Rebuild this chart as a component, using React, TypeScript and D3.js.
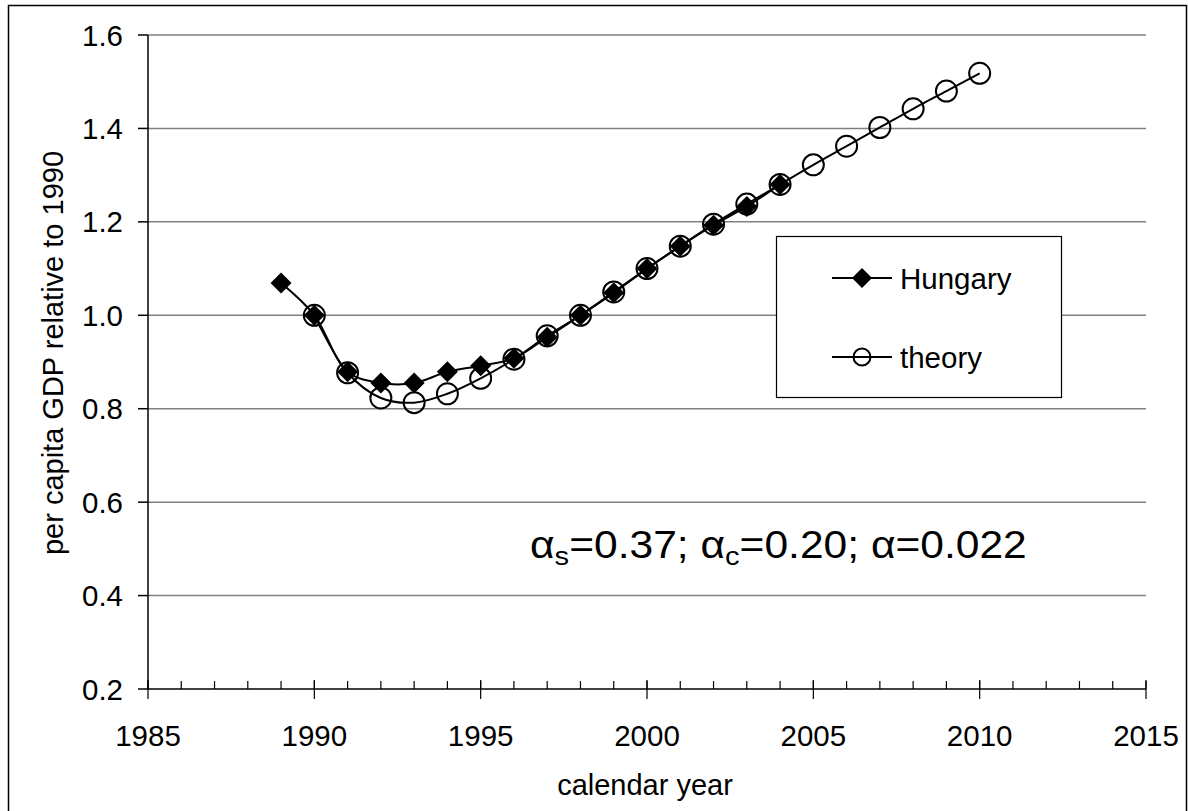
import React from "react";
import * as d3 from "d3";

const hungaryYears = [1989, 1990, 1991, 1992, 1993, 1994, 1995, 1996, 1997, 1998, 1999, 2000, 2001, 2002, 2003, 2004];
const hungaryValues = [1.069, 1.0, 0.879, 0.855, 0.855, 0.879, 0.892, 0.908, 0.953, 1.0, 1.048, 1.1, 1.148, 1.193, 1.233, 1.28];

const theoryYears = [1990, 1991, 1992, 1993, 1994, 1995, 1996, 1997, 1998, 1999, 2000, 2001, 2002, 2003, 2004, 2005, 2006, 2007, 2008, 2009, 2010];
const theoryValues = [1.0, 0.877, 0.823, 0.813, 0.832, 0.865, 0.906, 0.956, 1.0, 1.05, 1.1, 1.148, 1.195, 1.238, 1.28, 1.322, 1.362, 1.402, 1.442, 1.48, 1.518];

const xTicks = [1985, 1990, 1995, 2000, 2005, 2010, 2015];
const yTicks = [0.2, 0.4, 0.6, 0.8, 1.0, 1.2, 1.4, 1.6];

const FONT = "'Liberation Sans', Arial, Helvetica, sans-serif";

export default function App() {
  const W = 1188, H = 811;
  const x = d3.scaleLinear().domain([1985, 2015]).range([148, 1146]);
  const y = d3.scaleLinear().domain([0.2, 1.6]).range([689, 35]);
  const minor = d3.range(1985, 2016, 1);

  const line = d3
    .line<[number, number]>()
    .x((d) => x(d[0]))
    .y((d) => y(d[1]))
    .curve(d3.curveCatmullRom.alpha(0.5));

  const hung: [number, number][] = hungaryYears.map((yr, i) => [yr, hungaryValues[i]]);
  const theo: [number, number][] = theoryYears.map((yr, i) => [yr, theoryValues[i]]);

  const diamond = (cx: number, cy: number, r: number) =>
    `M${cx},${cy - r}L${cx + r},${cy}L${cx},${cy + r}L${cx - r},${cy}Z`;

  const legX = 776, legY = 236, legW = 285, legH = 161;

  return (
    <svg width={W} height={H} style={{ position: "absolute", left: 0, top: 0, background: "#fff" }} fontFamily={FONT}>
      <rect x={0} y={0} width={W} height={H} fill="#fff" />
      <rect x={8.5} y={5.5} width={1178} height={830} fill="none" stroke="#000" strokeWidth={1.5} />

      {/* gridlines */}
      {yTicks.slice(1).map((t) => (
        <line key={"g" + t} x1={x(1985)} x2={x(2015)} y1={y(t)} y2={y(t)} stroke="#808080" strokeWidth={1.5} />
      ))}

      {/* y axis */}
      <line x1={x(1985)} x2={x(1985)} y1={y(1.6)} y2={y(0.2)} stroke="#000" strokeWidth={1.5} />
      {yTicks.map((t) => (
        <g key={"y" + t}>
          <line x1={x(1985) - 10} x2={x(1985)} y1={y(t)} y2={y(t)} stroke="#000" strokeWidth={1.5} />
          <text x={123} y={y(t)} dy="0.36em" textAnchor="end" fontSize={29.5}>
            {t.toFixed(1)}
          </text>
        </g>
      ))}

      {/* x axis */}
      <line x1={x(1985)} x2={x(2015)} y1={y(0.2)} y2={y(0.2)} stroke="#000" strokeWidth={1.5} />
      {minor.map((t) => (
        <line key={"m" + t} x1={x(t)} x2={x(t)} y1={y(0.2) - 8} y2={y(0.2)} stroke="#000" strokeWidth={1.2} />
      ))}
      {xTicks.map((t) => (
        <g key={"x" + t}>
          <line x1={x(t)} x2={x(t)} y1={y(0.2) - 9} y2={y(0.2) + 10} stroke="#000" strokeWidth={1.2} />
          <text x={x(t)} y={746} textAnchor="middle" fontSize={29.5}>
            {t}
          </text>
        </g>
      ))}

      {/* axis titles */}
      <text x={645} y={795} textAnchor="middle" fontSize={29}>
        calendar year
      </text>
      <text transform={`translate(63,353) rotate(-90)`} textAnchor="middle" fontSize={29}>
        per capita GDP relative to 1990
      </text>

      {/* theory series */}
      <path d={line(theo) || ""} fill="none" stroke="#000" strokeWidth={2} />
      {theo.map((d) => (
        <circle key={"c" + d[0]} cx={x(d[0])} cy={y(d[1])} r={10.5} fill="none" stroke="#000" strokeWidth={2} />
      ))}

      {/* Hungary series */}
      <path d={line(hung) || ""} fill="none" stroke="#000" strokeWidth={2} />
      {hung.map((d) => (
        <path key={"d" + d[0]} d={diamond(x(d[0]), y(d[1]), 10.5)} fill="#000" />
      ))}

      {/* legend */}
      <rect x={legX + 0.5} y={legY + 0.5} width={legW} height={legH} fill="#fff" stroke="#000" strokeWidth={1.2} />
      <line x1={832} x2={892} y1={278} y2={278} stroke="#000" strokeWidth={2} />
      <path d={diamond(862, 278, 10)} fill="#000" />
      <text x={900} y={278} dy="0.36em" fontSize={29.5}>
        Hungary
      </text>
      <line x1={832} x2={892} y1={357} y2={357} stroke="#000" strokeWidth={2} />
      <circle cx={862} cy={357} r={8.5} fill="#fff" stroke="#000" strokeWidth={2} />
      <line x1={853} x2={871} y1={357} y2={357} stroke="#000" strokeWidth={2} />
      <text x={900} y={357} dy="0.36em" fontSize={29.5}>
        theory
      </text>

      {/* annotation */}
      <g transform="translate(530,558) scale(1.12,1)">
        <text x={0} y={0} fontSize={38}>
          <tspan>α</tspan>
          <tspan dy={7} fontSize={26}>s</tspan>
          <tspan dy={-7}>=0.37; α</tspan>
          <tspan dy={7} fontSize={26}>c</tspan>
          <tspan dy={-7}>=0.20; α=0.022</tspan>
        </text>
      </g>
    </svg>
  );
}
